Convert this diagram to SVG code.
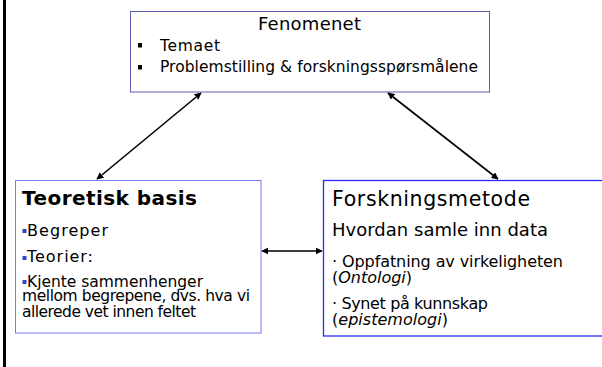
<svg xmlns="http://www.w3.org/2000/svg" width="602" height="367" viewBox="0 0 602 367">
<style>
text{font-family:"DejaVu Sans","Liberation Sans",sans-serif;fill:#000}
.box{fill:#fff}
.conn{stroke:#000;stroke-width:1.6;fill:none;marker-start:url(#ah);marker-end:url(#ah)}
</style>
<defs>
<marker id="ah" viewBox="0 0 10 10" refX="9" refY="5" markerWidth="7" markerHeight="7" markerUnits="userSpaceOnUse" orient="auto-start-reverse">
<path d="M0,0 L10,5 L0,10 z" fill="#000"/>
</marker>
</defs>
<rect x="0" y="0" width="602" height="367" fill="#fff"/>
<rect x="3" y="0" width="3" height="367" fill="#000"/>
<g id="fenomenet">
<rect class="box" x="130.5" y="11.5" width="359" height="80.5" stroke="#5c5cb0" stroke-width="1"/>
<text x="309.5" y="30" font-size="18" text-anchor="middle" textLength="103">Fenomenet</text>
<rect x="138" y="43" width="4" height="4.5" fill="#000"/>
<text x="160" y="51" font-size="15.5" textLength="60">Temaet</text>
<rect x="138" y="65" width="4" height="4.5" fill="#000"/>
<text x="160" y="72" font-size="15.5" textLength="318">Problemstilling &amp; forskningsspørsmålene</text>
</g>
<g id="teoretisk">
<rect class="box" x="15.5" y="180.5" width="245.5" height="152.5" stroke="#7777ff" stroke-width="1"/>
<text x="22" y="205" font-size="20" font-weight="bold" textLength="175">Teoretisk basis</text>
<rect x="22.5" y="229" width="4" height="4" fill="#3344cc"/>
<text x="27" y="235.5" font-size="16" textLength="81">Begreper</text>
<rect x="22.5" y="256" width="4" height="4" fill="#3344cc"/>
<text x="27" y="262" font-size="16" textLength="66">Teorier:</text>
<rect x="22.5" y="280" width="4" height="4" fill="#3344cc"/>
<text x="27" y="286.5" font-size="15.5" textLength="176">Kjente sammenhenger</text>
<text x="22" y="301" font-size="15.5" textLength="228">mellom begrepene, dvs. hva vi</text>
<text x="22" y="316.5" font-size="15.5" textLength="174">allerede vet innen feltet</text>
</g>
<g id="forskningsmetode">
<rect class="box" x="323.5" y="180.5" width="290" height="155.5" stroke="#2a2aff" stroke-width="1.3"/>
<text x="332" y="206" font-size="20.5" textLength="198">Forskningsmetode</text>
<text x="332" y="236" font-size="18" textLength="216">Hvordan samle inn data</text>
<text x="332" y="267" font-size="16" textLength="231">· Oppfatning av virkeligheten</text>
<text x="332" y="283" font-size="16" textLength="80">(<tspan font-style="italic">Ontologi</tspan>)</text>
<text x="332" y="309" font-size="16" textLength="156">· Synet på kunnskap</text>
<text x="332" y="325" font-size="16" textLength="116">(<tspan font-style="italic">epistemologi</tspan>)</text>
</g>
<g id="connectors">
<line class="conn" x1="201" y1="93" x2="97" y2="179"/>
<line class="conn" x1="388" y1="93" x2="498" y2="179"/>
<line class="conn" x1="262" y1="251" x2="322" y2="251"/>
</g>
</svg>
